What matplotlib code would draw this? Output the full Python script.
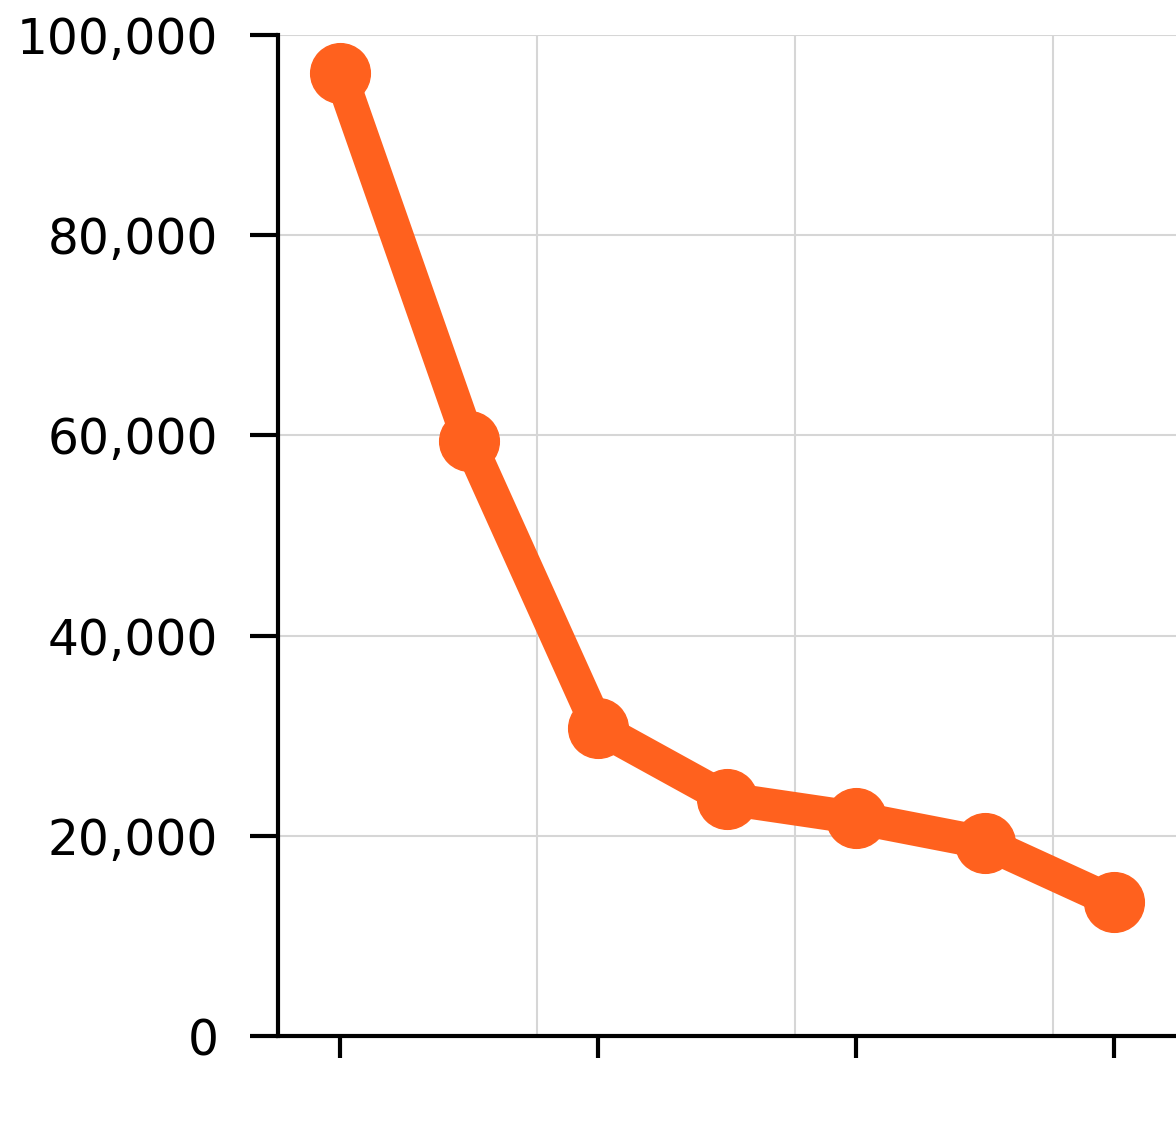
import matplotlib.pyplot as plt
from matplotlib.ticker import FuncFormatter

x_vals = [0, 1, 2, 3, 4, 5, 6]
y_vals = [96200, 59400, 30800, 23700, 21800, 19300, 13400]
y_ticks = [0, 20000, 40000, 60000, 80000, 100000]
x_ticks = [0, 2, 4, 6]
x_labels = ['', '', '', '']

line_color = '#ff611e'

fig = plt.figure(figsize=(11.76, 11.48), dpi=100)
ax = fig.add_axes([278 / 1176, 112 / 1148, 1 - 278 / 1176, (1036 - 35) / 1148])

ax.plot(x_vals, y_vals, color=line_color, lw=24, marker='o', ms=43,
        solid_capstyle='round', solid_joinstyle='round', zorder=3)

ax.set_xlim(-0.48, 6.48)
ax.set_ylim(0, 100000)
ax.set_yticks(y_ticks)
ax.yaxis.set_major_formatter(FuncFormatter(lambda v, p: '{:,.0f}'.format(v)))
ax.set_xticks(x_ticks)
ax.set_xticklabels(x_labels)
ax.set_xticks([1.527, 3.527, 5.527], minor=True)

ax.tick_params(axis='y', length=20, width=3, pad=23, labelsize=35, colors='black')
ax.tick_params(axis='x', which='major', length=16, width=3, colors='black')
ax.tick_params(axis='x', which='minor', length=0)

ax.grid(axis='y', color='#d6d6d6', lw=1.5, zorder=0)
ax.grid(axis='x', which='minor', color='#d6d6d6', lw=1.5, zorder=0)
ax.grid(axis='x', which='major', visible=False)

for s in ['top', 'right']:
    ax.spines[s].set_visible(False)
for s in ['left', 'bottom']:
    ax.spines[s].set_linewidth(3)

fig.savefig('out.png', dpi=100)
